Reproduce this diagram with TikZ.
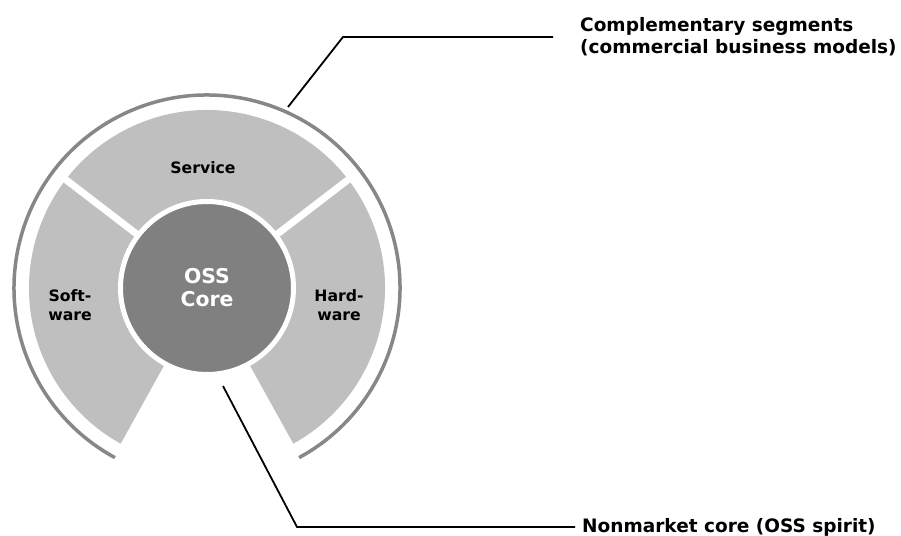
\documentclass[tikz,border=0pt]{standalone}
\usepackage{fontspec}
\setmainfont{DejaVu Sans}
\usetikzlibrary{positioning, calc}

\definecolor{segfill}{gray}{0.75}
\definecolor{corefill}{gray}{0.5}
\definecolor{ringline}{gray}{0.53}

\begin{document}
\begin{tikzpicture}[
    x=1pt, y=1pt,
    gap/.style={white, line width=7pt},
    lbl/.style={font=\fontsize{15.7}{19}\selectfont\bfseries, align=center, text=black},
    call/.style={font=\fontsize{18.5}{22}\selectfont\bfseries, align=left, anchor=west, inner sep=0pt},
    leader/.style={black, line width=1.8pt}
  ]
  \useasboundingbox (0,0) rectangle (901,535);
  \coordinate (c) at (207,247);

  % complementary segments
  \fill[segfill] ($(c)+(-61:178)$) arc[start angle=-61, end angle=241, radius=178]
    -- ($(c)+(241:88)$) arc[start angle=241, end angle=-61, radius=88] -- cycle;
  \foreach \a in {37.5,142.5}
    \draw[gap] ($(c)+(\a:80)$) -- ($(c)+(\a:185)$);

  % outer ring
  \draw[ringline, line width=3.5pt] ($(c)+(-61.5:193)$) arc[start angle=-61.5, end angle=241.5, radius=193];

  % nonmarket core
  \node[circle, fill=corefill, draw=white, line width=5pt, minimum size=173pt, inner sep=0pt,
    text=white, align=center, font=\fontsize{20.4}{23}\selectfont\bfseries] (core) at (c) {OSS\\Core};

  \node[lbl] (service) at (203,367) {Service};
  \node[lbl] (software) at (70,230) {Soft-\\ware};
  \node[lbl] (hardware) at (339,230) {Hard-\\ware};

  % callouts
  \coordinate (t1) at (288,428);
  \coordinate (t2) at (343,498);
  \coordinate (t3) at (553,498);
  \node[call, right=27pt of t3] (compl) {Complementary segments\\(commercial business models)};
  \draw[leader] (t1) -- (t2) -- (t3);

  \coordinate (b1) at (223,149);
  \coordinate (b2) at (297,8);
  \coordinate (b3) at (575,8);
  \node[call, right=7pt of b3] (nonmkt) {Nonmarket core (OSS spirit)};
  \draw[leader] (b1) -- (b2) -- (b3);
\end{tikzpicture}
\end{document}
